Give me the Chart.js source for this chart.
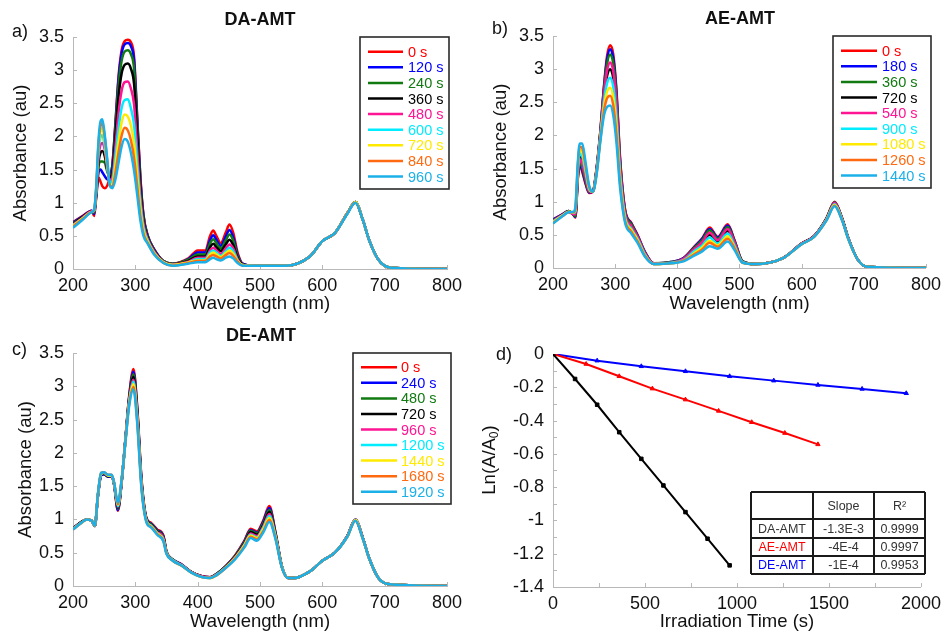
<!DOCTYPE html>
<html>
<head>
<meta charset="utf-8">
<script src="https://cdn.jsdelivr.net/npm/chart.js@4.4.1/dist/chart.umd.min.js"></script>
<style>
  body { margin: 0; background: #fff; }
  #page { position: relative; width: 947px; height: 634px; overflow: hidden; background: #fff; }
  canvas { position: absolute; }
</style>
</head>
<body>
<div id="page">
  <canvas id="chartA" width="470" height="317" style="left:0;top:0"></canvas>
  <canvas id="chartB" width="477" height="317" style="left:470px;top:0"></canvas>
  <canvas id="chartC" width="470" height="317" style="left:0;top:317px"></canvas>
  <canvas id="chartD" width="477" height="317" style="left:470px;top:317px"></canvas>
</div>
<script>
// ---- data ----

// a) DA-AMT
const waveA = [200,215,230,234,237,241,244,247,251,255,259,263,268,273,278,283,288,293,298,303,308,313,320,330,345,360,385,400,412,420,425,430,437,445,451,457,464,472,490,540,580,600,620,640,653,665,675,690,710,800];
const labelsA = ['0 s','120 s','240 s','360 s','480 s','600 s','720 s','840 s','960 s'];
const absA0 = [0.71,0.80,0.88,0.80, 1.05,1.38,1.32,1.25,1.22,1.26,1.38,1.55, 2.20,2.90,3.30,3.44,3.46,3.42,3.20,2.30,1.40,0.82,0.50,0.30,0.12,0.08, 0.16,0.28,0.28,0.50,0.58,0.50,0.39,0.55,0.67,0.55,0.25,0.08, 0.05,0.05,0.19,0.42,0.54,0.84,1.01,0.74,0.44,0.14,0.02,0.00];
const absA1 = [0.70,0.79,0.88,0.83, 1.08,1.46,1.50,1.46,1.40,1.35,1.40,1.55, 2.17,2.86,3.25,3.39,3.41,3.36,3.14,2.26,1.38,0.81,0.50,0.30,0.12,0.08, 0.15,0.25,0.25,0.44,0.51,0.44,0.35,0.49,0.59,0.48,0.22,0.08, 0.05,0.05,0.19,0.42,0.54,0.84,1.01,0.74,0.44,0.14,0.02,0.00];
const absA2 = [0.69,0.78,0.87,0.85, 1.10,1.55,1.62,1.62,1.60,1.47,1.40,1.50, 2.11,2.76,3.14,3.28,3.30,3.24,3.02,2.17,1.33,0.79,0.49,0.29,0.12,0.08, 0.14,0.22,0.22,0.39,0.45,0.39,0.31,0.43,0.52,0.43,0.20,0.07, 0.05,0.05,0.19,0.42,0.54,0.84,1.01,0.74,0.44,0.14,0.02,0.00];
const absA3 = [0.68,0.78,0.87,0.86, 1.12,1.62,1.75,1.78,1.70,1.50,1.38,1.45, 2.00,2.59,2.95,3.08,3.10,3.02,2.79,2.02,1.24,0.74,0.47,0.28,0.11,0.07, 0.12,0.19,0.19,0.33,0.38,0.33,0.27,0.37,0.44,0.36,0.17,0.07, 0.05,0.05,0.19,0.42,0.54,0.84,1.01,0.74,0.44,0.14,0.02,0.00];
const absA4 = [0.67,0.77,0.87,0.87, 1.14,1.70,1.87,1.90,1.80,1.52,1.33,1.38, 1.84,2.35,2.69,2.82,2.83,2.72,2.48,1.80,1.12,0.69,0.45,0.27,0.11,0.07, 0.11,0.17,0.17,0.28,0.32,0.28,0.23,0.31,0.37,0.31,0.15,0.06, 0.05,0.05,0.19,0.42,0.54,0.84,1.01,0.74,0.44,0.14,0.02,0.00];
const absA5 = [0.66,0.76,0.86,0.88, 1.16,1.80,1.98,2.02,1.85,1.55,1.30,1.32, 1.69,2.12,2.43,2.55,2.56,2.42,2.17,1.59,1.00,0.63,0.43,0.25,0.10,0.06, 0.10,0.15,0.15,0.25,0.28,0.25,0.20,0.27,0.32,0.27,0.13,0.06, 0.05,0.05,0.19,0.42,0.54,0.84,1.01,0.74,0.44,0.14,0.02,0.00];
const absA6 = [0.65,0.76,0.86,0.88, 1.18,1.85,2.07,2.12,1.92,1.58,1.28,1.27, 1.56,1.92,2.21,2.33,2.30,2.16,1.90,1.41,0.90,0.58,0.41,0.24,0.10,0.06, 0.10,0.13,0.13,0.22,0.25,0.22,0.18,0.24,0.28,0.23,0.12,0.06, 0.05,0.05,0.19,0.42,0.54,0.84,1.01,0.74,0.44,0.14,0.02,0.00];
const absA7 = [0.64,0.75,0.86,0.89, 1.19,1.90,2.15,2.20,1.98,1.62,1.26,1.24, 1.45,1.75,2.01,2.13,2.09,1.94,1.67,1.25,0.81,0.54,0.39,0.23,0.09,0.05, 0.09,0.12,0.12,0.19,0.21,0.19,0.16,0.21,0.24,0.20,0.11,0.05, 0.05,0.05,0.19,0.42,0.54,0.84,1.00,0.74,0.44,0.14,0.02,0.00];
const absA8 = [0.62,0.74,0.86,0.90, 1.20,1.95,2.22,2.26,2.02,1.65,1.26,1.22, 1.35,1.60,1.85,1.96,1.92,1.75,1.48,1.12,0.74,0.50,0.38,0.22,0.09,0.05, 0.08,0.10,0.10,0.15,0.17,0.15,0.13,0.17,0.19,0.16,0.09,0.05, 0.05,0.05,0.19,0.42,0.54,0.83,1.00,0.74,0.44,0.14,0.02,0.00];

// b) AE-AMT
const waveB = [200,215,225,233,236,240,243,247,252,258,264,270,276,282,287,292,297,302,308,316,326,336,348,362,390,410,428,440,452,465,481,492,505,525,570,600,620,640,653,665,675,690,705,800];
const labelsB = ['0 s','180 s','360 s','720 s','540 s','900 s','1080 s','1260 s','1440 s'];
const absB0 = [0.73,0.81,0.86,0.80, 0.76,1.35,1.55,1.45,1.28,1.13,1.15, 1.50,2.05,2.75,3.20,3.36,3.22,2.70,1.65,0.88,0.68,0.50,0.24,0.07, 0.09,0.15,0.33,0.45,0.61,0.47,0.66,0.42,0.10, 0.06,0.15,0.37,0.48,0.75,1.00,0.75,0.45,0.13,0.02,0.00];
const absB1 = [0.73,0.81,0.86,0.80, 0.77,1.37,1.57,1.48,1.30,1.14,1.15, 1.49,2.04,2.72,3.15,3.30,3.16,2.65,1.62,0.87,0.67,0.49,0.24,0.07, 0.09,0.15,0.32,0.44,0.59,0.46,0.64,0.41,0.10, 0.06,0.15,0.37,0.48,0.75,0.99,0.75,0.45,0.13,0.02,0.00];
const absB2 = [0.72,0.80,0.86,0.81, 0.78,1.39,1.60,1.52,1.33,1.15,1.15, 1.48,2.03,2.68,3.08,3.22,3.08,2.58,1.58,0.85,0.66,0.48,0.23,0.07, 0.09,0.14,0.31,0.42,0.57,0.44,0.62,0.40,0.10, 0.06,0.15,0.37,0.48,0.75,0.99,0.75,0.45,0.13,0.02,0.00];
const absB3 = [0.71,0.80,0.85,0.82, 0.82,1.45,1.68,1.62,1.41,1.18,1.15, 1.46,1.99,2.57,2.90,3.00,2.86,2.38,1.47,0.80,0.62,0.45,0.21,0.06, 0.08,0.13,0.28,0.37,0.50,0.40,0.56,0.36,0.09, 0.06,0.15,0.37,0.48,0.74,0.97,0.74,0.45,0.13,0.02,0.00];
const absB4 = [0.71,0.80,0.85,0.81, 0.81,1.42,1.64,1.57,1.38,1.16,1.15, 1.47,2.01,2.62,2.98,3.10,2.96,2.47,1.52,0.82,0.63,0.47,0.22,0.07, 0.08,0.14,0.29,0.39,0.53,0.42,0.59,0.38,0.09, 0.06,0.15,0.37,0.48,0.74,0.98,0.74,0.45,0.13,0.02,0.00];
const absB5 = [0.70,0.79,0.85,0.83, 0.85,1.48,1.73,1.68,1.46,1.19,1.15, 1.45,1.97,2.51,2.79,2.87,2.73,2.27,1.41,0.77,0.59,0.44,0.20,0.06, 0.08,0.12,0.26,0.34,0.46,0.37,0.52,0.34,0.09, 0.06,0.15,0.36,0.47,0.73,0.96,0.73,0.44,0.13,0.02,0.00];
const absB6 = [0.69,0.79,0.85,0.84, 0.87,1.53,1.78,1.75,1.52,1.21,1.15, 1.43,1.94,2.43,2.66,2.72,2.57,2.14,1.33,0.74,0.57,0.42,0.19,0.06, 0.07,0.11,0.23,0.31,0.41,0.34,0.48,0.31,0.08, 0.06,0.15,0.36,0.47,0.73,0.95,0.73,0.44,0.13,0.02,0.00];
const absB7 = [0.68,0.78,0.84,0.84, 0.89,1.56,1.83,1.81,1.56,1.23,1.15, 1.42,1.92,2.37,2.56,2.60,2.45,2.03,1.27,0.71,0.55,0.40,0.18,0.06, 0.07,0.11,0.21,0.28,0.38,0.32,0.44,0.30,0.08, 0.06,0.15,0.36,0.47,0.72,0.94,0.72,0.44,0.13,0.02,0.00];
const absB8 = [0.67,0.78,0.84,0.85, 0.92,1.60,1.88,1.88,1.62,1.25,1.15, 1.40,1.90,2.30,2.43,2.45,2.30,1.90,1.20,0.68,0.52,0.38,0.17,0.06, 0.07,0.10,0.19,0.25,0.33,0.29,0.40,0.27,0.08, 0.06,0.15,0.36,0.47,0.72,0.93,0.72,0.44,0.13,0.02,0.00];

// c) DE-AMT
const waveC = [200,215,222,230,235,240,245,250,256,262,266,272,278,284,290,297,303,310,318,325,335,345,350,360,375,390,405,420,430,445,460,475,485,495,505,515,525,535,545,555,580,600,620,640,653,665,675,690,705,800];
const labelsC = ['0 s','240 s','480 s','720 s','960 s','1200 s','1440 s','1680 s','1920 s'];
const absC0 = [0.87,0.97,1.00,0.98,0.90, 1.35,1.66,1.68,1.64,1.65,1.52, 1.13,1.55,2.20,2.85,3.26,2.70,1.60,1.02,0.95,0.85,0.76,0.52,0.40, 0.32,0.21,0.15,0.13,0.18,0.30,0.46,0.68, 0.86,0.82,0.98,1.20,0.80,0.30,0.12, 0.12,0.22,0.38,0.50,0.75,1.00,0.72,0.42,0.12,0.03,0.00];
const absC1 = [0.87,0.97,1.00,0.98,0.90, 1.35,1.66,1.68,1.64,1.65,1.52, 1.14,1.56,2.19,2.83,3.22,2.67,1.58,1.01,0.94,0.84,0.75,0.51,0.40, 0.32,0.21,0.15,0.13,0.18,0.30,0.45,0.67, 0.84,0.80,0.96,1.17,0.79,0.30,0.12, 0.12,0.22,0.38,0.50,0.75,1.00,0.72,0.42,0.12,0.03,0.00];
const absC2 = [0.86,0.97,1.00,0.98,0.90, 1.36,1.67,1.69,1.65,1.66,1.53, 1.16,1.56,2.19,2.81,3.18,2.64,1.56,1.00,0.93,0.83,0.74,0.51,0.40, 0.31,0.21,0.15,0.13,0.18,0.29,0.45,0.66, 0.83,0.79,0.94,1.14,0.78,0.30,0.12, 0.12,0.22,0.38,0.50,0.75,0.99,0.72,0.42,0.12,0.03,0.00];
const absC3 = [0.86,0.97,1.00,0.98,0.90, 1.36,1.67,1.69,1.65,1.66,1.53, 1.18,1.57,2.18,2.79,3.14,2.61,1.54,0.99,0.92,0.82,0.73,0.50,0.39, 0.31,0.21,0.15,0.13,0.17,0.29,0.44,0.64, 0.81,0.77,0.91,1.11,0.76,0.29,0.12, 0.12,0.22,0.38,0.50,0.75,0.99,0.72,0.42,0.12,0.03,0.00];
const absC4 = [0.86,0.96,1.00,0.98,0.90, 1.37,1.68,1.70,1.66,1.66,1.54, 1.19,1.58,2.18,2.78,3.10,2.58,1.52,0.98,0.91,0.81,0.72,0.50,0.39, 0.31,0.21,0.15,0.13,0.17,0.28,0.43,0.63, 0.79,0.75,0.89,1.08,0.75,0.29,0.12, 0.12,0.22,0.38,0.50,0.75,0.99,0.72,0.42,0.12,0.03,0.00];
const absC5 = [0.86,0.96,1.00,0.98,0.90, 1.37,1.68,1.70,1.66,1.66,1.54, 1.20,1.58,2.17,2.76,3.07,2.54,1.51,0.98,0.91,0.80,0.70,0.50,0.39, 0.31,0.20,0.14,0.12,0.17,0.28,0.42,0.62, 0.77,0.73,0.87,1.05,0.74,0.29,0.12, 0.12,0.22,0.38,0.50,0.74,0.99,0.71,0.42,0.12,0.03,0.00];
const absC6 = [0.86,0.96,1.00,0.98,0.91, 1.37,1.69,1.70,1.66,1.66,1.54, 1.22,1.59,2.16,2.74,3.03,2.51,1.49,0.97,0.90,0.79,0.69,0.49,0.38, 0.30,0.20,0.14,0.12,0.16,0.28,0.42,0.61, 0.76,0.72,0.85,1.02,0.73,0.29,0.12, 0.12,0.22,0.38,0.50,0.74,0.99,0.71,0.42,0.12,0.03,0.00];
const absC7 = [0.85,0.96,1.00,0.98,0.91, 1.38,1.70,1.71,1.67,1.67,1.55, 1.23,1.59,2.16,2.72,2.99,2.48,1.47,0.96,0.89,0.78,0.68,0.49,0.38, 0.30,0.20,0.14,0.12,0.16,0.27,0.41,0.59, 0.74,0.70,0.82,0.99,0.71,0.28,0.12, 0.12,0.22,0.38,0.50,0.74,0.98,0.71,0.42,0.12,0.03,0.00];
const absC8 = [0.85,0.96,1.00,0.98,0.91, 1.38,1.70,1.71,1.67,1.67,1.55, 1.25,1.60,2.15,2.70,2.95,2.45,1.45,0.95,0.88,0.77,0.67,0.48,0.38, 0.30,0.20,0.14,0.12,0.16,0.27,0.40,0.58, 0.72,0.68,0.80,0.96,0.70,0.28,0.12, 0.12,0.22,0.38,0.50,0.74,0.98,0.71,0.42,0.12,0.03,0.00];

// d) kinetics
const timeDA = [0,120,240,360,480,600,720,840,960];
const lnDA = [0,-0.15,-0.305,-0.47,-0.63,-0.79,-0.95,-1.11,-1.27];
const timeAE = [0,180,360,540,720,900,1080,1260,1440];
const lnAE = [0,-0.06,-0.134,-0.208,-0.274,-0.342,-0.41,-0.475,-0.543];
const timeDE = [0,240,480,720,960,1200,1440,1680,1920];
const lnDE = [0,-0.04,-0.074,-0.104,-0.134,-0.16,-0.186,-0.21,-0.236];

const tableNames = ['DA-AMT','AE-AMT','DE-AMT'];
const tableSlopes = ['-1.3E-3','-4E-4','-1E-4'];
const tableR2 = ['0.9999','0.9997','0.9953'];

const absTicks = [0,0.5,1,1.5,2,2.5,3,3.5];
const timeTicks = [0,500,1000,1500,2000];
const lnTicks = [0,-0.2,-0.4,-0.6,-0.8,-1,-1.2,-1.4];

// ---- styling ----
const SERIES_COLORS = ['#ff0000','#0000ff','#117a11','#000000','#ff1493','#00ecff','#ffea00','#ff6a10','#1cb0e8'];
const FONT = '"Liberation Sans", Arial, sans-serif';
const TEXT = '#111';
const AXIS_GRAY = '#b8b8b8';
const tickFont = {family: FONT, size: 18};
const titleFont = {family: FONT, size: 18.5};

// small inward tick marks along the left and bottom axes
const innerTicks = {
  id: 'innerTicks',
  beforeDatasetsDraw(chart, args, opts) {
    const {ctx, scales: {x, y}} = chart;
    ctx.save();
    ctx.strokeStyle = AXIS_GRAY;
    ctx.lineWidth = 1;
    ctx.beginPath();
    for (let v = x.min; v <= x.max + 1e-9; v += opts.xStep) {
      const px = Math.round(x.getPixelForValue(v)) + 0.5;
      ctx.moveTo(px, y.bottom);
      ctx.lineTo(px, y.bottom - opts.len);
    }
    for (let v = y.min; v <= y.max + 1e-9; v += opts.yStep) {
      const py = Math.round(y.getPixelForValue(v)) + 0.5;
      ctx.moveTo(x.left, py);
      ctx.lineTo(x.left + opts.len, py);
    }
    ctx.stroke();
    ctx.restore();
  }
};

// boxed legend with coloured labels
const boxLegend = {
  id: 'boxLegend',
  afterDraw(chart, args, opts) {
    if (!opts.box) return;
    const {ctx} = chart;
    const [x1, y1, x2, y2] = opts.box;
    ctx.save();
    ctx.fillStyle = '#fff';
    ctx.fillRect(x1, y1, x2 - x1, y2 - y1);
    ctx.strokeStyle = '#2a2a2a';
    ctx.lineWidth = 1.6;
    ctx.strokeRect(x1, y1, x2 - x1, y2 - y1);
    ctx.font = '14.5px ' + FONT;
    ctx.textBaseline = 'middle';
    chart.data.datasets.forEach((ds, i) => {
      const yy = opts.rowY + i * opts.rowStep;
      ctx.strokeStyle = ds.borderColor;
      ctx.lineWidth = 2.5;
      ctx.beginPath();
      ctx.moveTo(opts.lineX[0], yy);
      ctx.lineTo(opts.lineX[1], yy);
      ctx.stroke();
      ctx.fillStyle = ds.borderColor;
      ctx.fillText(ds.label, opts.textX, yy + 1);
    });
    ctx.restore();
  }
};

// panel letter and bold title
const panelText = {
  id: 'panelText',
  afterDraw(chart, args, opts) {
    const {ctx} = chart;
    ctx.save();
    ctx.fillStyle = TEXT;
    ctx.textBaseline = 'middle';
    if (opts.letter) {
      ctx.font = '18px ' + FONT;
      ctx.textAlign = 'left';
      ctx.fillText(opts.letter, opts.letterX, opts.letterY);
    }
    if (opts.title) {
      ctx.font = 'bold 18px ' + FONT;
      ctx.textAlign = 'center';
      ctx.fillText(opts.title, opts.titleX, opts.titleY);
    }
    if (opts.yTitle) {
      // Ln(A/A0) with subscript
      ctx.translate(opts.yTitleX, opts.yTitleY);
      ctx.rotate(-Math.PI / 2);
      const big = '18.5px ' + FONT, small = '12px ' + FONT;
      ctx.font = big; const w1 = ctx.measureText('Ln(A/A').width, w3 = ctx.measureText(')').width;
      ctx.font = small; const w2 = ctx.measureText('0').width;
      let xx = -(w1 + w2 + w3) / 2;
      ctx.textAlign = 'left';
      ctx.font = big; ctx.fillText('Ln(A/A', xx, 0); xx += w1;
      ctx.font = small; ctx.fillText('0', xx, 5); xx += w2;
      ctx.font = big; ctx.fillText(')', xx, 0);
    }
    ctx.restore();
  }
};

// result table inside panel d
const fitTable = {
  id: 'fitTable',
  afterDraw(chart, args, opts) {
    if (!opts.cols) return;
    const {ctx} = chart;
    const cols = opts.cols, rows = opts.rows;
    ctx.save();
    ctx.fillStyle = '#fff';
    ctx.fillRect(cols[0], rows[0], cols[3] - cols[0], rows[4] - rows[0]);
    ctx.strokeStyle = '#1a1a1a';
    ctx.lineWidth = 2;
    ctx.beginPath();
    cols.forEach(c => { ctx.moveTo(c, rows[0]); ctx.lineTo(c, rows[4]); });
    rows.forEach(r => { ctx.moveTo(cols[0], r); ctx.lineTo(cols[3], r); });
    ctx.stroke();
    ctx.font = '12.5px ' + FONT;
    ctx.textAlign = 'center';
    ctx.textBaseline = 'middle';
    const cx = i => (cols[i] + cols[i + 1]) / 2;
    const cy = j => (rows[j] + rows[j + 1]) / 2 + 1;
    ctx.fillStyle = '#333';
    ctx.fillText('Slope', cx(1), cy(0));
    ctx.fillText('R\u00B2', cx(2), cy(0));
    tableNames.forEach((name, j) => {
      ctx.fillStyle = opts.nameColors[j];
      ctx.fillText(name, cx(0), cy(j + 1));
      ctx.fillStyle = '#333';
      ctx.fillText(tableSlopes[j], cx(1), cy(j + 1));
      ctx.fillText(tableR2[j], cx(2), cy(j + 1));
    });
    ctx.restore();
  }
};

function spectrumChart(id, wave, series, labels, cfg) {
  const datasets = series.map((vals, i) => ({
    label: labels[i],
    data: wave.map((w, k) => ({x: w, y: vals[k]})),
    borderColor: SERIES_COLORS[i],
    backgroundColor: SERIES_COLORS[i],
    borderWidth: 2.5,
    pointRadius: 0,
    cubicInterpolationMode: 'monotone',
    order: series.length - i
  }));
  return new Chart(document.getElementById(id), {
    type: 'line',
    data: {datasets},
    plugins: [innerTicks, boxLegend, panelText],
    options: {
      responsive: false,
      animation: false,
      events: [],
      layout: {padding: cfg.pad},
      plugins: {
        legend: {display: false},
        tooltip: {enabled: false},
        innerTicks: {xStep: 100, yStep: 0.5, len: 4},
        boxLegend: cfg.legend,
        panelText: cfg.text
      },
      scales: {
        x: {
          type: 'linear', min: 200, max: 800,
          afterFit: s => { s.height = cfg.xHeight; },
          grid: {display: false, drawTicks: false},
          border: {color: AXIS_GRAY},
          ticks: {stepSize: 100, padding: 6, color: TEXT, font: tickFont, maxRotation: 0, callback: v => String(v)},
          title: {display: true, text: 'Wavelength (nm)', color: TEXT, font: titleFont, padding: 0}
        },
        y: {
          type: 'linear', min: 0, max: 3.5,
          afterFit: s => { s.width = cfg.yWidth; },
          afterBuildTicks: s => { s.ticks = absTicks.map(v => ({value: v})); },
          grid: {display: false, drawTicks: false},
          border: {color: AXIS_GRAY},
          ticks: {padding: 9, color: TEXT, font: tickFont, callback: v => String(v)},
          title: {display: true, text: 'Absorbance (au)', color: TEXT, font: titleFont, padding: 0}
        }
      }
    }
  });
}

spectrumChart('chartA', waveA, [absA0,absA1,absA2,absA3,absA4,absA5,absA6,absA7,absA8], labelsA, {
  pad: {left: 10, top: 37, right: 23, bottom: 2}, yWidth: 63, xHeight: 46,
  legend: {box: [360, 37, 449, 189], lineX: [368, 403], textX: 408, rowY: 51.7, rowStep: 15.6},
  text: {letter: 'a)', letterX: 12, letterY: 32, title: 'DA-AMT', titleX: 260, titleY: 20}
});

spectrumChart('chartB', waveB, [absB0,absB1,absB2,absB3,absB4,absB5,absB6,absB7,absB8], labelsB, {
  pad: {left: 20, top: 36, right: 20, bottom: 2}, yWidth: 63, xHeight: 47,
  legend: {box: [363, 36, 461, 188], lineX: [371, 407], textX: 412, rowY: 50.7, rowStep: 15.6},
  text: {letter: 'b)', letterX: 22, letterY: 29, title: 'AE-AMT', titleX: 270, titleY: 19}
});

spectrumChart('chartC', waveC, [absC0,absC1,absC2,absC3,absC4,absC5,absC6,absC7,absC8], labelsC, {
  pad: {left: 15, top: 36, right: 23, bottom: 1}, yWidth: 58, xHeight: 47,
  legend: {box: [353, 36, 451, 187], lineX: [361, 397], textX: 401, rowY: 50.3, rowStep: 15.55},
  text: {letter: 'c)', letterX: 12, letterY: 33, title: 'DE-AMT', titleX: 261, titleY: 19}
});

const pts = (xs, ys) => xs.map((t, i) => ({x: t, y: ys[i]}));

new Chart(document.getElementById('chartD'), {
  type: 'line',
  data: {
    datasets: [
      {label: 'DA-AMT', data: pts(timeDA, lnDA), borderColor: '#000', backgroundColor: '#000',
       borderWidth: 2, pointStyle: 'rect', pointRadius: 2.5, pointBorderWidth: 1},
      {label: 'AE-AMT', data: pts(timeAE, lnAE), borderColor: '#ff0000', backgroundColor: '#ff0000',
       borderWidth: 2, pointStyle: 'triangle', pointRadius: 2.5, pointBorderWidth: 1},
      {label: 'DE-AMT', data: pts(timeDE, lnDE), borderColor: '#0000ff', backgroundColor: '#0000ff',
       borderWidth: 2, pointStyle: 'triangle', pointRadius: 2.5, pointBorderWidth: 1}
    ]
  },
  plugins: [innerTicks, panelText, fitTable],
  options: {
    responsive: false,
    animation: false,
    events: [],
    layout: {padding: {left: 0, top: 37, right: 20, bottom: 1}},
    plugins: {
      legend: {display: false},
      tooltip: {enabled: false},
      innerTicks: {xStep: 250, yStep: 0.1, len: 4},
      panelText: {letter: 'd)', letterX: 26, letterY: 38, yTitle: true, yTitleX: 20, yTitleY: 143},
      fitTable: {cols: [281, 343, 404, 455], rows: [175, 202, 221, 239, 257],
                 nameColors: ['#333', '#ff0000', '#0000ff']}
    },
    scales: {
      x: {
        type: 'linear', min: 0, max: 2000,
        afterFit: s => { s.height = 46; },
        afterBuildTicks: s => { s.ticks = timeTicks.map(v => ({value: v})); },
        grid: {display: false, drawTicks: false},
        border: {color: AXIS_GRAY},
        ticks: {padding: 6, color: TEXT, font: tickFont, maxRotation: 0, callback: v => String(v)},
        title: {display: true, text: 'Irradiation Time (s)', color: TEXT, font: titleFont, padding: 0}
      },
      y: {
        type: 'linear', min: -1.4, max: 0,
        afterFit: s => { s.width = 83; },
        afterBuildTicks: s => { s.ticks = lnTicks.map(v => ({value: v})); },
        grid: {display: false, drawTicks: false},
        border: {color: AXIS_GRAY},
        ticks: {padding: 9, color: TEXT, font: tickFont, callback: v => String(v)}
      }
    }
  }
});
</script>
</body>
</html>
